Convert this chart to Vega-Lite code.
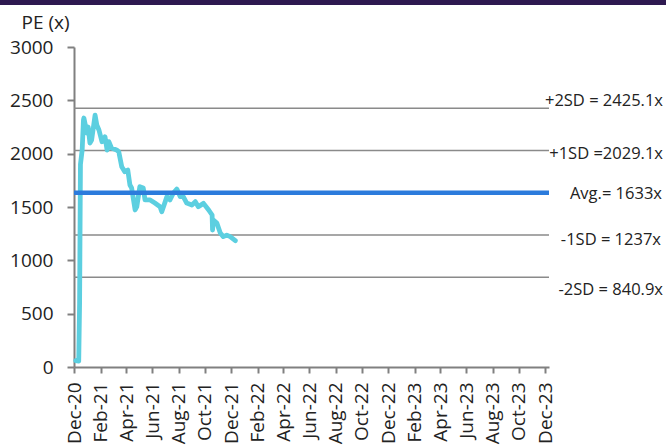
{
  "$schema": "https://vega.github.io/schema/vega-lite/v6.json",
  "autosize": {"type": "none"},
  "width": 475,
  "height": 320,
  "padding": {"left": 74, "top": 47, "right": 117, "bottom": 78},
  "background": "white",
  "config": {
    "font": "Open Sans",
    "view": {"stroke": null},
    "axis": {
      "domainColor": "#808080",
      "domainWidth": 2,
      "tickColor": "#808080",
      "tickWidth": 2,
      "labelColor": "#222222",
      "labelFontSize": 19,
      "labelFont": "Open Sans",
      "titleFont": "Open Sans",
      "grid": false
    }
  },
  "datasets": {
    "pe": [
      {"date": "2020-12-05", "pe": 60},
      {"date": "2020-12-12", "pe": 55},
      {"date": "2020-12-14", "pe": 600},
      {"date": "2020-12-16", "pe": 1900},
      {"date": "2020-12-20", "pe": 2034},
      {"date": "2020-12-23", "pe": 2316},
      {"date": "2020-12-24", "pe": 2334},
      {"date": "2020-12-31", "pe": 2194},
      {"date": "2021-01-03", "pe": 2250},
      {"date": "2021-01-07", "pe": 2100},
      {"date": "2021-01-11", "pe": 2128},
      {"date": "2021-01-19", "pe": 2362},
      {"date": "2021-01-23", "pe": 2269},
      {"date": "2021-01-28", "pe": 2222},
      {"date": "2021-02-04", "pe": 2112},
      {"date": "2021-02-11", "pe": 2159},
      {"date": "2021-02-16", "pe": 2034},
      {"date": "2021-02-20", "pe": 2112},
      {"date": "2021-02-26", "pe": 2053},
      {"date": "2021-03-10", "pe": 2034},
      {"date": "2021-03-15", "pe": 2019},
      {"date": "2021-03-22", "pe": 1878},
      {"date": "2021-03-29", "pe": 1831},
      {"date": "2021-04-05", "pe": 1847},
      {"date": "2021-04-10", "pe": 1706},
      {"date": "2021-04-14", "pe": 1678},
      {"date": "2021-04-22", "pe": 1472},
      {"date": "2021-04-26", "pe": 1503},
      {"date": "2021-05-03", "pe": 1690},
      {"date": "2021-05-11", "pe": 1678},
      {"date": "2021-05-15", "pe": 1566},
      {"date": "2021-05-27", "pe": 1566},
      {"date": "2021-06-07", "pe": 1537},
      {"date": "2021-06-19", "pe": 1503},
      {"date": "2021-06-23", "pe": 1456},
      {"date": "2021-07-05", "pe": 1597},
      {"date": "2021-07-12", "pe": 1566},
      {"date": "2021-07-20", "pe": 1631},
      {"date": "2021-07-28", "pe": 1669},
      {"date": "2021-08-05", "pe": 1597},
      {"date": "2021-08-12", "pe": 1597},
      {"date": "2021-08-20", "pe": 1537},
      {"date": "2021-09-01", "pe": 1519},
      {"date": "2021-09-09", "pe": 1550},
      {"date": "2021-09-16", "pe": 1503},
      {"date": "2021-09-28", "pe": 1534},
      {"date": "2021-10-10", "pe": 1472},
      {"date": "2021-10-18", "pe": 1425},
      {"date": "2021-10-19", "pe": 1284},
      {"date": "2021-10-21", "pe": 1378},
      {"date": "2021-10-29", "pe": 1350},
      {"date": "2021-11-06", "pe": 1256},
      {"date": "2021-11-13", "pe": 1222},
      {"date": "2021-11-21", "pe": 1237},
      {"date": "2021-11-29", "pe": 1222},
      {"date": "2021-12-11", "pe": 1184}
    ],
    "levels": [
      {"name": "+2SD", "value": 2425.1, "label": "+2SD = 2425.1x"},
      {"name": "+1SD", "value": 2029.1, "label": "+1SD =2029.1x"},
      {"name": "Avg", "value": 1633, "label": "Avg.= 1633x"},
      {"name": "-1SD", "value": 1237, "label": "-1SD = 1237x"},
      {"name": "-2SD", "value": 840.9, "label": "-2SD = 840.9x"}
    ],
    "band": [
      {"start": "2020-05-01", "end": "2024-12-31", "lo": 3394, "hi": 3480}
    ]
  },
  "layer": [
    {
      "data": {"name": "levels"},
      "transform": [{"filter": "datum.name != 'Avg'"}],
      "mark": {"type": "rule", "color": "#8a8a8a", "strokeWidth": 1.6},
      "encoding": {
        "y": {"field": "value", "type": "quantitative"}
      }
    },
    {
      "data": {"name": "pe"},
      "mark": {"type": "line", "color": "#5ccfe0", "strokeWidth": 4.8, "strokeCap": "round", "strokeJoin": "round"},
      "encoding": {
        "x": {
          "field": "date",
          "type": "temporal",
          "scale": {
            "domain": [
              {"year": 2020, "month": 12, "date": 1},
              {"year": 2023, "month": 12, "date": 10}
            ]
          },
          "axis": {
            "title": null,
            "tickCount": {"interval": "month", "step": 1},
            "labelExpr": "month(datum.value) % 2 == 1 ? timeFormat(datum.value, '%b-%y') : ''",
            "tickOpacity": {"condition": {"test": "month(datum.value) % 2 == 1", "value": 1}, "value": 0},
            "labelAngle": -90,
            "labelAlign": "right",
            "labelBaseline": "middle",
            "tickSize": 6,
            "labelPadding": 9,
            "labelFontSize": 19,
            "labelOverlap": false,
            "labelBound": false,
            "labelFlush": false
          }
        },
        "y": {
          "field": "pe",
          "type": "quantitative",
          "scale": {"domain": [0, 3000], "nice": false, "zero": true},
          "axis": {
            "title": "PE (x)",
            "format": "d",
            "titleAngle": 0,
            "titleAlign": "left",
            "titleBaseline": "middle",
            "titleX": -53,
            "titleY": -25,
            "titleFontSize": 19,
            "titleFontWeight": "normal",
            "titleColor": "#222222",
            "values": [0, 500, 1000, 1500, 2000, 2500, 3000],
            "tickSize": 7,
            "labelPadding": 14,
            "labelFontSize": 19
          }
        }
      }
    },
    {
      "data": {"name": "levels"},
      "transform": [{"filter": "datum.name == 'Avg'"}],
      "mark": {"type": "rule", "color": "#2b7bdc", "strokeWidth": 4.5},
      "encoding": {
        "y": {"field": "value", "type": "quantitative"}
      }
    },
    {
      "data": {"name": "levels"},
      "transform": [{"filter": "datum.name == '+2SD'"}],
      "mark": {"type": "text", "align": "right", "baseline": "middle", "x": {"expr": "width + 114"}, "dy": -7, "fontSize": 16.5, "color": "#222222"},
      "encoding": {
        "y": {"field": "value", "type": "quantitative"},
        "text": {"field": "label"}
      }
    },
    {
      "data": {"name": "levels"},
      "transform": [{"filter": "datum.name == '+1SD'"}],
      "mark": {"type": "text", "align": "right", "baseline": "middle", "x": {"expr": "width + 114"}, "dy": 3, "fontSize": 16.5, "color": "#222222"},
      "encoding": {
        "y": {"field": "value", "type": "quantitative"},
        "text": {"field": "label"}
      }
    },
    {
      "data": {"name": "levels"},
      "transform": [{"filter": "datum.name == 'Avg'"}],
      "mark": {"type": "text", "align": "right", "baseline": "middle", "x": {"expr": "width + 113"}, "dy": 1, "fontSize": 16.5, "color": "#222222"},
      "encoding": {
        "y": {"field": "value", "type": "quantitative"},
        "text": {"field": "label"}
      }
    },
    {
      "data": {"name": "levels"},
      "transform": [{"filter": "datum.name == '-1SD'"}],
      "mark": {"type": "text", "align": "right", "baseline": "middle", "x": {"expr": "width + 112"}, "dy": 5, "fontSize": 16.5, "color": "#222222"},
      "encoding": {
        "y": {"field": "value", "type": "quantitative"},
        "text": {"field": "label"}
      }
    },
    {
      "data": {"name": "levels"},
      "transform": [{"filter": "datum.name == '-2SD'"}],
      "mark": {"type": "text", "align": "right", "baseline": "middle", "x": {"expr": "width + 114"}, "dy": 13, "fontSize": 16.5, "color": "#222222"},
      "encoding": {
        "y": {"field": "value", "type": "quantitative"},
        "text": {"field": "label"}
      }
    },
    {
      "data": {"name": "band"},
      "mark": {"type": "rect", "color": "#2e1950", "clip": false},
      "encoding": {
        "x": {"field": "start", "type": "temporal"},
        "x2": {"field": "end"},
        "y": {"field": "lo", "type": "quantitative"},
        "y2": {"field": "hi"}
      }
    }
  ]
}
